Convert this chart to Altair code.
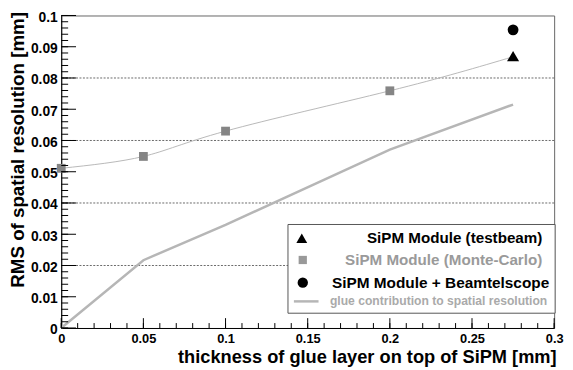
import altair as alt
import pandas as pd
import numpy as np

# ---- data ----
mc_x = [0.0, 0.05, 0.10, 0.20, 0.275]
mc_y = [0.0511, 0.0549, 0.0630, 0.0759, 0.0868]

tb_x = [0.275]
tb_y = [0.0870]

bt_x = [0.275]
bt_y = [0.0954]

glue_x = [0.0, 0.05, 0.10, 0.20, 0.275]
glue_y = [0.0, 0.0217, 0.0330, 0.0571, 0.0715]

y_major = [0.0, 0.01, 0.02, 0.03, 0.04, 0.05, 0.06, 0.07, 0.08, 0.09, 0.1]
y_minor = [round(float(v), 3) for v in np.arange(0.0, 0.1001, 0.002)]
x_major = [0.0, 0.05, 0.1, 0.15, 0.2, 0.25, 0.3]
x_minor = [round(float(v), 3) for v in np.arange(0.0, 0.3001, 0.01)]
grid_y = [0.02, 0.04, 0.06, 0.08]

legend_labels = [
    "SiPM Module (testbeam)",
    "SiPM Module (Monte-Carlo)",
    "SiPM Module + Beamtelscope",
    "glue contribution to spatial resolution",
]

W, H = 500, 317
FONT = "Liberation Sans"
XMAX, YMAX = 0.3, 0.1

xs = alt.Scale(domain=[0, XMAX], nice=False, zero=False)
ys = alt.Scale(domain=[0, YMAX], nice=False, zero=False)

mc = pd.DataFrame({"x": mc_x, "y": mc_y})
tb = pd.DataFrame({"x": tb_x, "y": tb_y})
bt = pd.DataFrame({"x": bt_x, "y": bt_y})
glue = pd.DataFrame({"x": glue_x, "y": glue_y})

LBL = "datum.value == 0 ? '0' : format(datum.value, '.2~f')"

XAX = alt.Axis(
    values=x_major, labelExpr=LBL, labelOverlap=False, labelFlush=False,
    ticks=False, grid=False, domain=True, domainColor="black", domainWidth=1,
    labelFont=FONT, labelFontWeight="bold", labelFontSize=13, labelColor="black",
    labelPadding=5, labelBaseline="top",
    title="thickness of glue layer on top of SiPM [mm]",
    titleFont=FONT, titleFontWeight="bold", titleFontSize=18.5, titleColor="black",
    titleAlign="right", titleX=W + 2, titleY=35, titleBaseline="alphabetic",
)
YAX = alt.Axis(
    values=y_major, labelExpr=LBL, labelOverlap=False, labelFlush=False,
    ticks=False, grid=False, domain=True, domainColor="black", domainWidth=1,
    labelFont=FONT, labelFontWeight="bold", labelFontSize=14, labelColor="black",
    labelPadding=4, labelOffset=2,
    title="RMS of spatial resolution [mm]",
    titleFont=FONT, titleFontWeight="bold", titleFontSize=19, titleColor="black",
    titleAngle=270, titleAlign="right", titleBaseline="middle", titleX=-44, titleY=-4,
)

def X(f):
    return alt.X(f, scale=xs, axis=XAX)

def Y(f):
    return alt.Y(f, scale=ys, axis=YAX)

grid = alt.Chart(pd.DataFrame({"gy": grid_y})).mark_rule(
    color="#444", strokeWidth=0.8, strokeDash=[2, 1.5]
).encode(y=Y("gy:Q"))

glue_line = alt.Chart(glue).mark_line(color="#b6b6b6", strokeWidth=2.5).encode(x=X("x:Q"), y=Y("y:Q"))

mc_line = alt.Chart(mc).mark_line(color="#b8b8b8", strokeWidth=1, interpolate="natural").encode(
    x=X("x:Q"), y=Y("y:Q"))
mc_pts = alt.Chart(mc).transform_filter("datum.x < 0.27").mark_point(
    shape="square", filled=True, color="#858585", size=80, opacity=1
).encode(x=X("x:Q"), y=Y("y:Q"))

tb_pts = alt.Chart(tb).mark_point(shape="triangle-up", filled=True, color="black", size=150, opacity=1).encode(
    x=X("x:Q"), y=Y("y:Q"))
bt_pts = alt.Chart(bt).mark_point(shape="circle", filled=True, color="black", size=120, opacity=1).encode(
    x=X("x:Q"), y=Y("y:Q"))

# inward ticks (ROOT style): lengths in pixels converted to data units
def ytick_layer(vals, length_px, name):
    L = length_px / W * XMAX
    return alt.Chart(pd.DataFrame({name: vals})).transform_calculate(
        t0="0", t1=str(L)
    ).mark_rule(color="black", strokeWidth=1).encode(
        y=Y(f"{name}:Q"), x=X("t0:Q"), x2="t1:Q")

def xtick_layer(vals, length_px, name):
    L = length_px / H * YMAX
    return alt.Chart(pd.DataFrame({name: vals})).transform_calculate(
        t0="0", t1=str(L)
    ).mark_rule(color="black", strokeWidth=1).encode(
        x=X(f"{name}:Q"), y=Y("t0:Q"), y2="t1:Q")

ymaj = ytick_layer(y_major, 15, "ymj")
ymin = ytick_layer(y_minor, 7, "ymn")
xmaj = xtick_layer(x_major, 10, "xmj")
xmin = xtick_layer(x_minor, 5, "xmn")

# manual legend (ROOT TLegend look)
one = pd.DataFrame({"k": [0]})
lg_box = alt.Chart(one).mark_rect(fill="white", stroke="#555", strokeWidth=1).encode(
    x=alt.value(230), x2=alt.value(501), y=alt.value(212), y2=alt.value(302))
rows_y = [226, 248, 271, 290]
txt_right = [488, 488, 495, 493]
sym_x = 244
lg_tri = alt.Chart(one).mark_point(shape="triangle-up", filled=True, color="black", size=120, opacity=1).encode(
    x=alt.value(sym_x), y=alt.value(rows_y[0]))
lg_sq = alt.Chart(one).mark_point(shape="square", filled=True, color="#999", size=70, opacity=1).encode(
    x=alt.value(sym_x + 1), y=alt.value(rows_y[1]))
lg_ci = alt.Chart(one).mark_point(shape="circle", filled=True, color="black", size=110, opacity=1).encode(
    x=alt.value(sym_x + 1), y=alt.value(rows_y[2]))
lg_ln = alt.Chart(one).mark_rule(color="#b6b6b6", strokeWidth=2.5).encode(
    x=alt.value(236), x2=alt.value(261), y=alt.value(rows_y[3]))

def lg_text(i, color, size):
    return alt.Chart(one).mark_text(
        align="right", baseline="middle", font=FONT, fontWeight="bold", fontSize=size, color=color
    ).encode(x=alt.value(txt_right[i]), y=alt.value(rows_y[i]), text=alt.value(legend_labels[i]))

texts = [lg_text(0, "black", 15.4), lg_text(1, "#9a9a9a", 15.4), lg_text(2, "black", 15.6), lg_text(3, "#aaaaaa", 12.3)]

chart = alt.layer(
    grid, glue_line, mc_line, mc_pts, tb_pts, bt_pts,
    ymaj, ymin, xmaj, xmin,
    lg_box, lg_tri, lg_sq, lg_ci, lg_ln, *texts,
).properties(
    width=W, height=H,
    autosize=alt.AutoSizeParams(type="none"),
    padding={"left": 54, "top": 5, "right": 11, "bottom": 40},
    background="white",
).configure_view(stroke="#666", strokeWidth=1)

chart.save("out.html", embed_options={"renderer": "svg", "actions": False})
